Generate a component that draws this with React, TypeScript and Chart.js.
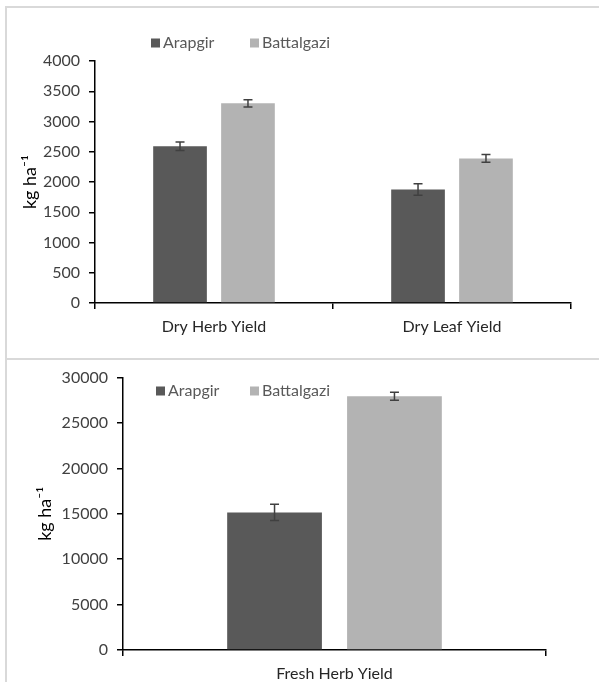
import React, { useEffect, useRef } from "react";
import { Chart, registerables } from "chart.js";
Chart.register(...registerables);

const seriesNames = ["Arapgir", "Battalgazi"];
const seriesColors = ["#595959", "#b3b3b3"];

const topCategories = ["Dry Herb Yield", "Dry Leaf Yield"];
const topArapgir = [2590, 1875];
const topArapgirErr = [70, 95];
const topBattalgazi = [3300, 2390];
const topBattalgaziErr = [60, 65];
const topMax = 4000;
const topStep = 500;

const bottomCategories = ["Fresh Herb Yield"];
const bottomArapgir = [15150];
const bottomArapgirErr = [900];
const bottomBattalgazi = [27950];
const bottomBattalgaziErr = [450];
const bottomMax = 30000;
const bottomStep = 5000;

const yTitle = "kg ha\u207B\u00B9";
const FONT = "Lato";

const errorBarPlugin = {
  id: "errorBars",
  afterDatasetsDraw(chart: any) {
    const ctx = chart.ctx;
    const yScale = chart.scales.y;
    chart.data.datasets.forEach((ds: any, di: number) => {
      const meta = chart.getDatasetMeta(di);
      const errs = ds.errors || [];
      meta.data.forEach((bar: any, i: number) => {
        const v = ds.data[i];
        const e = errs[i] || 0;
        const yTop = yScale.getPixelForValue(v + e);
        const yBot = yScale.getPixelForValue(v - e);
        const x = bar.x;
        ctx.save();
        ctx.strokeStyle = "#404040";
        ctx.lineWidth = 1.5;
        ctx.beginPath();
        ctx.moveTo(x, yTop);
        ctx.lineTo(x, yBot);
        ctx.moveTo(x - 4.5, yTop);
        ctx.lineTo(x + 4.5, yTop);
        ctx.moveTo(x - 4.5, yBot);
        ctx.lineTo(x + 4.5, yBot);
        ctx.stroke();
        ctx.restore();
      });
    });
  },
};

const inlineLegendPlugin = {
  id: "inlineLegend",
  afterDraw(chart: any, _args: any, opts: any) {
    const ctx = chart.ctx;
    ctx.save();
    chart.data.datasets.forEach((ds: any, i: number) => {
      const x = opts.xs[i];
      const y = opts.y;
      ctx.fillStyle = ds.backgroundColor;
      ctx.fillRect(x, y - 4.5, 9, 9);
      ctx.fillStyle = "#595959";
      ctx.font = `16px ${FONT}`;
      ctx.textBaseline = "middle";
      ctx.textAlign = "left";
      ctx.fillText(ds.label, x + 12, y);
    });
    ctx.restore();
  },
};

function makeConfig(p: any) {
  const tickFont = { family: FONT, size: 16 };
  return {
    type: "bar",
    data: {
      labels: p.categories,
      datasets: [
        {
          label: seriesNames[0],
          data: p.a,
          errors: p.aErr,
          backgroundColor: seriesColors[0],
          categoryPercentage: p.catPct,
          barPercentage: 0.79,
        },
        {
          label: seriesNames[1],
          data: p.b,
          errors: p.bErr,
          backgroundColor: seriesColors[1],
          categoryPercentage: p.catPct,
          barPercentage: 0.79,
        },
      ],
    },
    options: {
      responsive: false,
      animation: false,
      layout: { padding: { left: 0, top: p.padTop, right: p.padRight, bottom: 0 } },
      plugins: {
        legend: { display: false },
        tooltip: { enabled: false },
        inlineLegend: { xs: p.legendXs, y: p.legendY },
      },
      scales: {
        x: {
          offset: true,
          grid: { offset: true, drawOnChartArea: false, drawTicks: true, tickLength: 6, color: "#000", lineWidth: 1.5 },
          border: { display: true, color: "#000", width: 1.5 },
          ticks: { color: "#262626", font: tickFont, padding: 8 },
          afterFit: (s: any) => {
            s.height = p.xh;
          },
        },
        y: {
          min: 0,
          max: p.max,
          ticks: {
            stepSize: p.step,
            color: "#404040",
            font: tickFont,
            padding: 9,
            callback: (v: any) => String(v),
          },
          grid: { drawOnChartArea: false, drawTicks: true, tickLength: 6, color: "#000", lineWidth: 1.5 },
          border: { display: true, color: "#000", width: 1.5 },
          title: {
            display: true,
            text: yTitle,
            color: "#000",
            font: { family: FONT, size: 18 },
            padding: { top: p.titlePad, bottom: 0 },
          },
          afterFit: (s: any) => {
            s.width = p.yw;
          },
        },
      },
    },
    plugins: [errorBarPlugin, inlineLegendPlugin],
  };
}

function BarCanvas(props: { cfg: any; width: number; height: number; style: any }) {
  const ref = useRef<HTMLCanvasElement>(null);
  useEffect(() => {
    if (!ref.current) return;
    const chart = new Chart(ref.current, props.cfg as any);
    return () => chart.destroy();
  }, []);
  return <canvas ref={ref} width={props.width} height={props.height} style={props.style} />;
}

export default function App() {
  const topCfg = makeConfig({
    categories: topCategories,
    a: topArapgir,
    aErr: topArapgirErr,
    b: topBattalgazi,
    bErr: topBattalgaziErr,
    max: topMax,
    step: topStep,
    catPct: 0.571,
    padTop: 61,
    padRight: 28,
    xh: 55,
    yw: 95,
    titlePad: 19,
    legendXs: [151, 250],
    legendY: 43,
  });
  const bottomCfg = makeConfig({
    categories: bottomCategories,
    a: bottomArapgir,
    aErr: bottomArapgirErr,
    b: bottomBattalgazi,
    bErr: bottomBattalgaziErr,
    max: bottomMax,
    step: bottomStep,
    catPct: 0.567,
    padTop: 15,
    padRight: 53,
    xh: 32,
    yw: 123,
    titlePad: 34,
    legendXs: [156, 250],
    legendY: 32,
  });
  const line = "#d9d9d9";
  return (
    <div style={{ position: "fixed", left: 0, top: 0, width: 599, height: 682, overflow: "hidden", background: "#fff" }}>
      <BarCanvas cfg={topCfg} width={599} height={358} style={{ position: "absolute", left: 0, top: 0 }} />
      <BarCanvas cfg={bottomCfg} width={599} height={323} style={{ position: "absolute", left: 0, top: 359 }} />
      <div style={{ position: "absolute", left: 5, top: 6, width: 2, height: 676, background: line }} />
      <div style={{ position: "absolute", left: 5, top: 6, width: 594, height: 2, background: line }} />
      <div style={{ position: "absolute", left: 5, top: 358, width: 594, height: 2, background: line }} />
    </div>
  );
}
